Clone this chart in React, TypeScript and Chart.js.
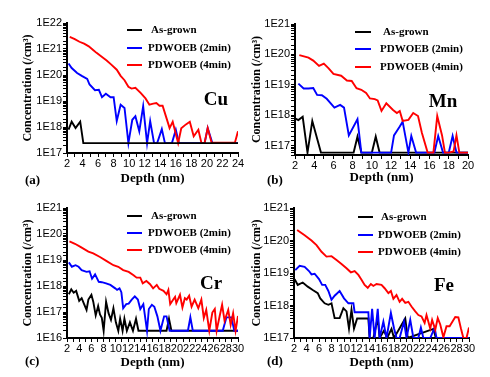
import { useEffect, useRef } from 'react';
import { Chart, registerables } from 'chart.js';

Chart.register(...registerables);

const SERIF = '"Liberation Serif", "Times New Roman", serif';
const SANS = '"Liberation Sans", Arial, sans-serif';

// ---------- data ----------
const legendLabels = ['As-grown', 'PDWOEB (2min)', 'PDWOEB (4min)'];
const seriesColors = ['#000000', '#0000ff', '#ff0000'];

// (a) Cu
const cuDepthBlack = [2.2, 2.6, 3.1, 3.7, 4.1, 24];
const cuBlack = [7.9e17, 1.6e18, 9.1e17, 1.6e18, 2.4e17, 2.4e17];
const cuDepthBlue = [2.2, 2.6, 3.3, 3.9, 4.6, 4.9, 5.6, 6.1, 6.5, 7.0, 7.6, 8.0, 8.4, 8.9, 9.4, 9.9, 10.4, 10.8, 11.3, 11.8, 12.3, 12.7, 13.2, 13.6, 14.2, 14.6, 15.5, 16.0, 16.4, 19.7, 20.1, 20.7, 24.0];
const cuBlue = [2.75e20, 1.86e20, 1.2e20, 9.3e19, 7.1e19, 4.3e19, 2.6e19, 2.7e19, 1.4e19, 1.9e19, 1.4e19, 1.4e19, 1.7e18, 7.2e18, 5.4e18, 2.4e17, 1.9e18, 2.6e18, 6.8e17, 6.3e18, 2.4e17, 1.7e18, 2.4e17, 2.4e17, 8.3e17, 2.4e17, 2.4e17, 7.9e17, 2.4e17, 2.4e17, 9.1e17, 2.4e17, 2.4e17];
const cuDepthRed = [2.35, 3.0, 3.6, 4.2, 4.8, 5.4, 5.8, 6.3, 7.1, 7.7, 8.4, 8.9, 9.4, 9.9, 10.3, 10.8, 11.5, 12.1, 12.6, 13.1, 13.5, 13.9, 14.3, 14.8, 15.2, 15.6, 16.3, 16.7, 17.3, 17.8, 18.3, 18.9, 19.3, 19.7, 20.1, 20.6, 21.0, 23.6, 24.0];
const cuRed = [2.9e21, 2.4e21, 1.9e21, 1.6e21, 1.26e21, 8.9e20, 7.1e20, 5.5e20, 3.6e20, 2.5e20, 1.6e20, 9.3e19, 6.3e19, 3.5e19, 3.0e19, 3.2e19, 2.0e19, 1.26e19, 7.2e18, 7.9e18, 8.3e18, 6.6e18, 6.6e18, 2.2e18, 9.1e17, 1.6e18, 2.4e17, 8.9e17, 1.26e18, 1.6e18, 4.4e17, 7.9e17, 2.4e17, 2.4e17, 9.1e17, 2.5e17, 2.5e17, 2.5e17, 6.8e17];

// (b) Mn
const mnDepthBlack = [2.0, 2.35, 2.8, 3.3, 3.8, 4.7, 8.1, 8.5, 8.9, 10.0, 10.4, 10.8, 20.0];
const mnBlack = [8e17, 7e17, 9e17, 6e16, 6.5e17, 6e16, 6e16, 2e17, 6e16, 6e16, 2e17, 6e16, 6e16];
const mnDepthBlue = [2.35, 2.9, 3.4, 3.9, 4.3, 4.8, 5.3, 6.1, 6.7, 7.1, 7.6, 8.5, 8.9, 12.0, 12.3, 12.9, 13.2, 13.8, 14.1, 14.6, 16.5, 16.9, 17.4, 18.0, 18.4, 18.8, 20.0];
const mnBlue = [1.1e19, 7.6e18, 7.6e18, 7.9e18, 4.7e18, 4.6e18, 3.5e18, 1.8e18, 2.2e18, 1.8e18, 2.2e17, 7.5e17, 6e16, 6e16, 2.2e17, 4.3e17, 6.2e17, 6e16, 2.1e17, 6e16, 6e16, 2.1e17, 6e16, 6e16, 2.1e17, 6e16, 6e16];
const mnDepthRed = [2.45, 3.4, 3.9, 4.5, 5.0, 5.5, 6.0, 6.8, 7.4, 7.9, 8.4, 8.9, 9.4, 9.8, 10.3, 10.6, 11.0, 11.5, 12.2, 12.6, 12.9, 13.2, 13.8, 14.3, 14.8, 15.2, 15.8, 16.4, 16.8, 17.3, 17.6, 18.0, 18.5, 18.8, 19.1, 20.0];
const mnRed = [9.5e19, 7.9e19, 6.3e19, 4.2e19, 5.0e19, 3.5e19, 2.3e19, 2.0e19, 1.4e19, 1.35e19, 7.8e18, 6.9e18, 5.4e18, 3.6e18, 3.4e18, 3.1e18, 1.4e18, 2.5e18, 1.5e18, 1.2e18, 1.4e18, 6.6e17, 7.1e17, 1.2e18, 9.5e17, 2.7e17, 6e16, 6e16, 9.5e17, 2.2e17, 6e16, 6e16, 6.5e16, 2.2e17, 6e16, 6e16];

// (c) Cr
const crDepthBlack = [2.3, 2.7, 3.1, 3.5, 4.0, 4.4, 4.8, 5.2, 5.5, 6.0, 6.3, 6.7, 7.1, 7.4, 7.7, 8.0, 8.4, 8.8, 9.2, 9.6, 10.0, 10.4, 10.7, 11.1, 11.4, 11.8, 12.3, 12.8, 13.3, 13.7, 18.3, 18.7, 19.1, 30.0];
const crBlack = [4.8e17, 7.4e17, 5.5e17, 6.5e17, 2.7e17, 3.4e17, 2.0e17, 1.2e17, 3.0e17, 4.6e17, 2.5e17, 7.4e16, 1.7e17, 8e16, 6e16, 1.9e16, 2.5e17, 9e16, 5e16, 1.4e17, 4e16, 1.9e16, 5.5e16, 1.9e16, 5.5e16, 1.9e16, 4e16, 1.9e16, 5.5e16, 1.9e16, 1.9e16, 5.5e16, 1.9e16, 1.9e16];
const crDepthBlue = [2.3, 2.8, 3.4, 3.9, 4.4, 5.2, 5.7, 6.1, 6.6, 7.2, 7.7, 8.4, 9.1, 9.9, 10.2, 10.6, 10.9, 11.2, 11.7, 12.1, 12.6, 13.1, 13.6, 14.0, 14.5, 15.1, 15.4, 15.9, 16.3, 16.8, 17.3, 17.9, 18.3, 18.8, 21.8, 22.2, 22.6, 27.5, 28.1, 28.9, 29.4, 30.0];
const crBlue = [8.1e18, 5.5e18, 6.3e18, 5.5e18, 4.1e18, 3.5e18, 3.7e18, 1.9e18, 2.8e18, 1.45e18, 1.4e18, 1.26e18, 1.1e18, 8.1e17, 7.1e17, 8.1e17, 5.8e17, 1.4e17, 2.0e17, 2.1e17, 3.0e17, 4.0e17, 3.0e17, 1.3e17, 2.0e17, 1.9e16, 1.3e17, 1.9e17, 1.6e17, 6.8e16, 1.9e16, 6.8e16, 6.8e16, 1.9e16, 1.9e16, 6.2e16, 1.9e16, 1.9e16, 6.2e16, 6.2e16, 1.9e16, 1.9e16];
const crDepthRed = [2.4, 3.3, 4.2, 5.5, 6.3, 7.4, 8.5, 9.6, 10.4, 11.2, 12.1, 12.9, 13.4, 14.0, 14.4, 15.0, 15.6, 16.1, 16.7, 17.1, 17.8, 18.3, 18.6, 18.9, 19.4, 19.7, 19.9, 20.5, 20.9, 21.3, 21.6, 22.0, 22.4, 22.9, 23.5, 24.0, 24.4, 24.8, 25.3, 25.8, 26.2, 26.5, 27.0, 27.4, 27.8, 28.4, 28.8, 29.2, 29.6, 30.0];
const crRed = [5.2e19, 4.2e19, 3.2e19, 2.1e19, 1.8e19, 1.3e19, 9.1e18, 6.3e18, 5.5e18, 4.1e18, 3.5e18, 2.6e18, 2.1e18, 2.1e18, 1.26e18, 1.55e18, 1.17e18, 8.1e17, 1.1e18, 7.8e17, 6.5e17, 4.8e17, 7.1e17, 2.0e17, 3.0e17, 3.8e17, 2.2e17, 4.6e17, 1.5e17, 3.4e17, 3.0e17, 4.2e17, 1.6e17, 3.0e17, 1.4e17, 3.0e17, 5.9e16, 1.2e17, 1.9e16, 9.5e16, 1.3e17, 1.9e16, 7e16, 1.9e17, 4.6e16, 1.2e17, 3.2e16, 9e16, 1.9e16, 7e16];

// (d) Fe
const feDepthBlack = [2.1, 2.6, 3.4, 4.2, 5.0, 5.8, 6.2, 6.9, 7.5, 8.0, 8.5, 9.3, 9.9, 10.4, 10.8, 11.2, 11.6, 12.1, 13.9, 14.1, 14.7, 15.4, 15.7, 16.4, 16.9, 17.6, 18.0, 19.8, 20.2, 24.3, 24.7, 30.0];
const feBlack = [6.5e18, 4.3e18, 5.1e18, 3.8e18, 3.0e18, 2.4e18, 1.66e18, 1.17e18, 1.05e18, 1.17e18, 4.1e17, 4.1e17, 8.3e17, 6.6e17, 1.95e17, 7.4e17, 1.95e17, 4e17, 4e17, 1e17, 1e17, 4.1e17, 1e17, 1.7e17, 1e17, 1.9e17, 1e17, 4e17, 1e17, 1.9e17, 1e17, 1e17];
const feDepthBlue = [2.2, 2.9, 3.7, 4.4, 4.8, 5.3, 6.0, 6.5, 7.0, 7.5, 8.0, 8.5, 9.3, 10.0, 10.7, 11.5, 11.7, 13.9, 14.1, 14.5, 14.9, 15.4, 15.7, 16.3, 16.8, 17.5, 18.0, 18.4, 18.9, 19.6, 20.0, 20.6, 21.1, 21.9, 22.3, 22.7, 23.8, 24.5, 24.8, 30.0];
const feBlue = [1.23e19, 1.66e19, 1.55e19, 1.15e19, 9.1e18, 9.5e18, 6.5e18, 4.3e18, 4.3e18, 2.8e18, 1.5e18, 2.0e18, 2.8e18, 1.66e18, 1.17e18, 1.17e18, 6.2e17, 6.2e17, 1.0e17, 7.9e17, 1.0e17, 7.9e17, 1.0e17, 3.2e17, 1.0e17, 5.9e17, 2.0e17, 1.0e17, 1.0e17, 3.2e17, 1.0e17, 3.6e17, 1.0e17, 1.0e17, 2.1e17, 1.0e17, 1.0e17, 2.1e17, 1.0e17, 1.0e17];
const feDepthRed = [2.5, 3.7, 4.8, 5.6, 6.4, 7.2, 8.0, 8.8, 9.6, 10.4, 11.1, 11.7, 12.3, 12.8, 13.3, 13.8, 14.3, 14.7, 15.2, 16.0, 16.5, 17.1, 17.5, 17.9, 18.4, 18.9, 19.3, 19.8, 20.3, 20.8, 21.4, 21.9, 22.4, 22.9, 23.2, 23.8, 24.1, 24.6, 25.0, 25.4, 25.9, 26.4, 26.9, 27.8, 28.3, 28.7, 29.1, 29.6, 30.0];
const feRed = [2.1e20, 1.45e20, 1.0e20, 7.2e19, 4.5e19, 3.2e19, 3.3e19, 2.5e19, 1.9e19, 1.4e19, 1.05e19, 1.15e19, 8.7e18, 6.2e18, 4.3e18, 3.5e18, 4.6e18, 4.0e18, 4.6e18, 4.3e18, 3.4e18, 2.4e18, 2.8e18, 1.6e18, 2.1e18, 1.3e18, 1.6e18, 1.2e18, 1.3e18, 9.3e17, 6.6e17, 5.1e17, 4.6e17, 2.9e17, 5.1e17, 1.95e17, 3.6e17, 1.8e17, 4.1e17, 2.6e17, 1.05e17, 2.3e17, 2.3e17, 4.4e17, 4.3e17, 2.0e17, 1.0e17, 1.0e17, 2.1e17];

// ---------- panels ----------
type Ser = { depth: number[]; conc: number[]; idx: number };
type PanelCfg = {
  letter: string; element: string;
  left: number; top: number; width: number; height: number;
  area: [number, number, number, number];
  xMax: number; yMin: number; yMax: number;
  series: Ser[];
  legend: { x1: number; x2: number; tx: number; ys: number[] };
  elementPos: [number, number];
  letterPos: [number, number];
  yTitlePad: number; xTitlePad: number;
};

const panels: PanelCfg[] = [
  {
    letter: '(a)', element: 'Cu', left: 0, top: 0, width: 245, height: 188,
    area: [67, 23, 238, 153], xMax: 24, yMin: 1e17, yMax: 1e22,
    series: [
      { depth: cuDepthBlack, conc: cuBlack, idx: 0 },
      { depth: cuDepthRed, conc: cuRed, idx: 2 },
      { depth: cuDepthBlue, conc: cuBlue, idx: 1 },
    ],
    legend: { x1: 127, x2: 142, tx: 148, ys: [30, 48, 65] },
    elementPos: [216, 100], letterPos: [25, 181], yTitlePad: 21, xTitlePad: 2,
  },
  {
    letter: '(b)', element: 'Mn', left: 245, top: 0, width: 245, height: 188,
    area: [50, 24, 223, 155], xMax: 20, yMin: 5e16, yMax: 1e21,
    series: [
      { depth: mnDepthRed, conc: mnRed, idx: 2 },
      { depth: mnDepthBlue, conc: mnBlue, idx: 1 },
      { depth: mnDepthBlack, conc: mnBlack, idx: 0 },
    ],
    legend: { x1: 110, x2: 126, tx: 135, ys: [32, 49, 67] },
    elementPos: [198, 102], letterPos: [22, 181], yTitlePad: 5, xTitlePad: 3,
  },
  {
    letter: '(c)', element: 'Cr', left: 0, top: 188, width: 245, height: 189,
    area: [67, 20, 238, 150], xMax: 30, yMin: 1e16, yMax: 1e21,
    series: [
      { depth: crDepthRed, conc: crRed, idx: 2 },
      { depth: crDepthBlue, conc: crBlue, idx: 1 },
      { depth: crDepthBlack, conc: crBlack, idx: 0 },
    ],
    legend: { x1: 127, x2: 142, tx: 148, ys: [28, 45, 62] },
    elementPos: [211, 96], letterPos: [25, 174], yTitlePad: 21, xTitlePad: 7,
  },
  {
    letter: '(d)', element: 'Fe', left: 245, top: 188, width: 245, height: 189,
    area: [49, 20, 224, 150], xMax: 30, yMin: 1e17, yMax: 1e21,
    series: [
      { depth: feDepthRed, conc: feRed, idx: 2 },
      { depth: feDepthBlue, conc: feBlue, idx: 1 },
      { depth: feDepthBlack, conc: feBlack, idx: 0 },
    ],
    legend: { x1: 113, x2: 128, tx: 133, ys: [29, 47, 64] },
    elementPos: [199, 98], letterPos: [22, 174], yTitlePad: 5, xTitlePad: 7,
  },
];

function makeOverlay(cfg: PanelCfg) {
  return {
    id: 'overlay',
    afterDraw(chart: any) {
      const ctx = chart.ctx as CanvasRenderingContext2D;
      ctx.save();
      ctx.textBaseline = 'middle';
      legendLabels.forEach((lab, i) => {
        const y = cfg.legend.ys[i];
        ctx.strokeStyle = seriesColors[i];
        ctx.lineWidth = 2;
        ctx.beginPath();
        ctx.moveTo(cfg.legend.x1, y);
        ctx.lineTo(cfg.legend.x2, y);
        ctx.stroke();
        ctx.fillStyle = '#000';
        ctx.font = `bold 11px ${SERIF}`;
        ctx.textAlign = 'left';
        ctx.fillText(lab, cfg.legend.tx + (i === 0 ? 3 : 0), y);
      });
      ctx.font = `bold 19px ${SERIF}`;
      ctx.textAlign = 'center';
      ctx.fillStyle = '#000';
      ctx.fillText(cfg.element, cfg.elementPos[0], cfg.elementPos[1]);
      ctx.font = `bold 13px ${SERIF}`;
      ctx.textAlign = 'left';
      ctx.fillText(cfg.letter, cfg.letterPos[0], cfg.letterPos[1]);
      ctx.restore();
    },
  };
}

function Panel({ cfg }: { cfg: PanelCfg }) {
  const ref = useRef<HTMLCanvasElement>(null);
  useEffect(() => {
    const [l, t, r, b] = cfg.area;
    const chart = new Chart(ref.current as HTMLCanvasElement, {
      type: 'line',
      data: {
        datasets: cfg.series.map((s) => ({
          label: legendLabels[s.idx],
          data: s.depth.map((x, i) => ({ x, y: s.conc[i] })),
          borderColor: seriesColors[s.idx],
          backgroundColor: seriesColors[s.idx],
          borderWidth: 1.9,
          pointRadius: 0,
          tension: 0,
          fill: false,
        })),
      },
      options: {
        animation: false,
        responsive: false,
        maintainAspectRatio: false,
        events: [],
        layout: {
          autoPadding: false,
          padding: { left: 0, top: t, right: cfg.width - r, bottom: 0 },
        },
        plugins: { legend: { display: false }, tooltip: { enabled: false } },
        scales: {
          x: {
            type: 'linear',
            min: 2,
            max: cfg.xMax,
            afterFit: (s: any) => { s.height = cfg.height - b; },
            ticks: {
              stepSize: 1,
              autoSkip: false,
              maxRotation: 0,
              minRotation: 0,
              padding: 0,
              color: '#000',
              font: { family: SANS, size: 11 },
              callback: (v: any) => (Number(v) % 2 === 0 ? String(v) : ''),
            },
            grid: { drawOnChartArea: false, drawTicks: true, tickLength: 4, color: '#000', lineWidth: 1 },
            border: { display: true, color: '#000', width: 2 },
            title: {
              display: true, text: 'Depth (nm)', color: '#000',
              font: { family: SERIF, size: 13, weight: 'bold' },
              padding: { top: 0, bottom: cfg.xTitlePad },
            },
          },
          y: {
            type: 'logarithmic',
            min: cfg.yMin,
            max: cfg.yMax,
            afterFit: (s: any) => { s.width = l; },
            ticks: {
              autoSkip: false,
              padding: 1,
              color: '#000',
              font: { family: SANS, size: 11 },
              callback: (v: any) => {
                const e = Math.log10(Number(v));
                return Math.abs(e - Math.round(e)) < 1e-6 ? '1E' + Math.round(e) : '';
              },
            },
            grid: { drawOnChartArea: false, drawTicks: true, tickLength: 4, color: '#000', lineWidth: 1 },
            border: { display: true, color: '#000', width: 2 },
            title: {
              display: true, text: 'Concentration (/cm³)', color: '#000',
              font: { family: SERIF, size: 12, weight: 'bold' },
              padding: { top: cfg.yTitlePad, bottom: 0 },
            },
          },
        },
      } as any,
      plugins: [makeOverlay(cfg)],
    });
    return () => chart.destroy();
  }, [cfg]);
  return (
    <canvas
      ref={ref}
      width={cfg.width}
      height={cfg.height}
      style={{ position: 'absolute', left: cfg.left, top: cfg.top, width: cfg.width, height: cfg.height }}
    />
  );
}

export default function App() {
  return (
    <div style={{ position: 'absolute', left: 0, top: 0, width: 490, height: 377, background: '#fff', overflow: 'hidden' }}>
      {panels.map((p) => (
        <Panel key={p.letter} cfg={p} />
      ))}
    </div>
  );
}
